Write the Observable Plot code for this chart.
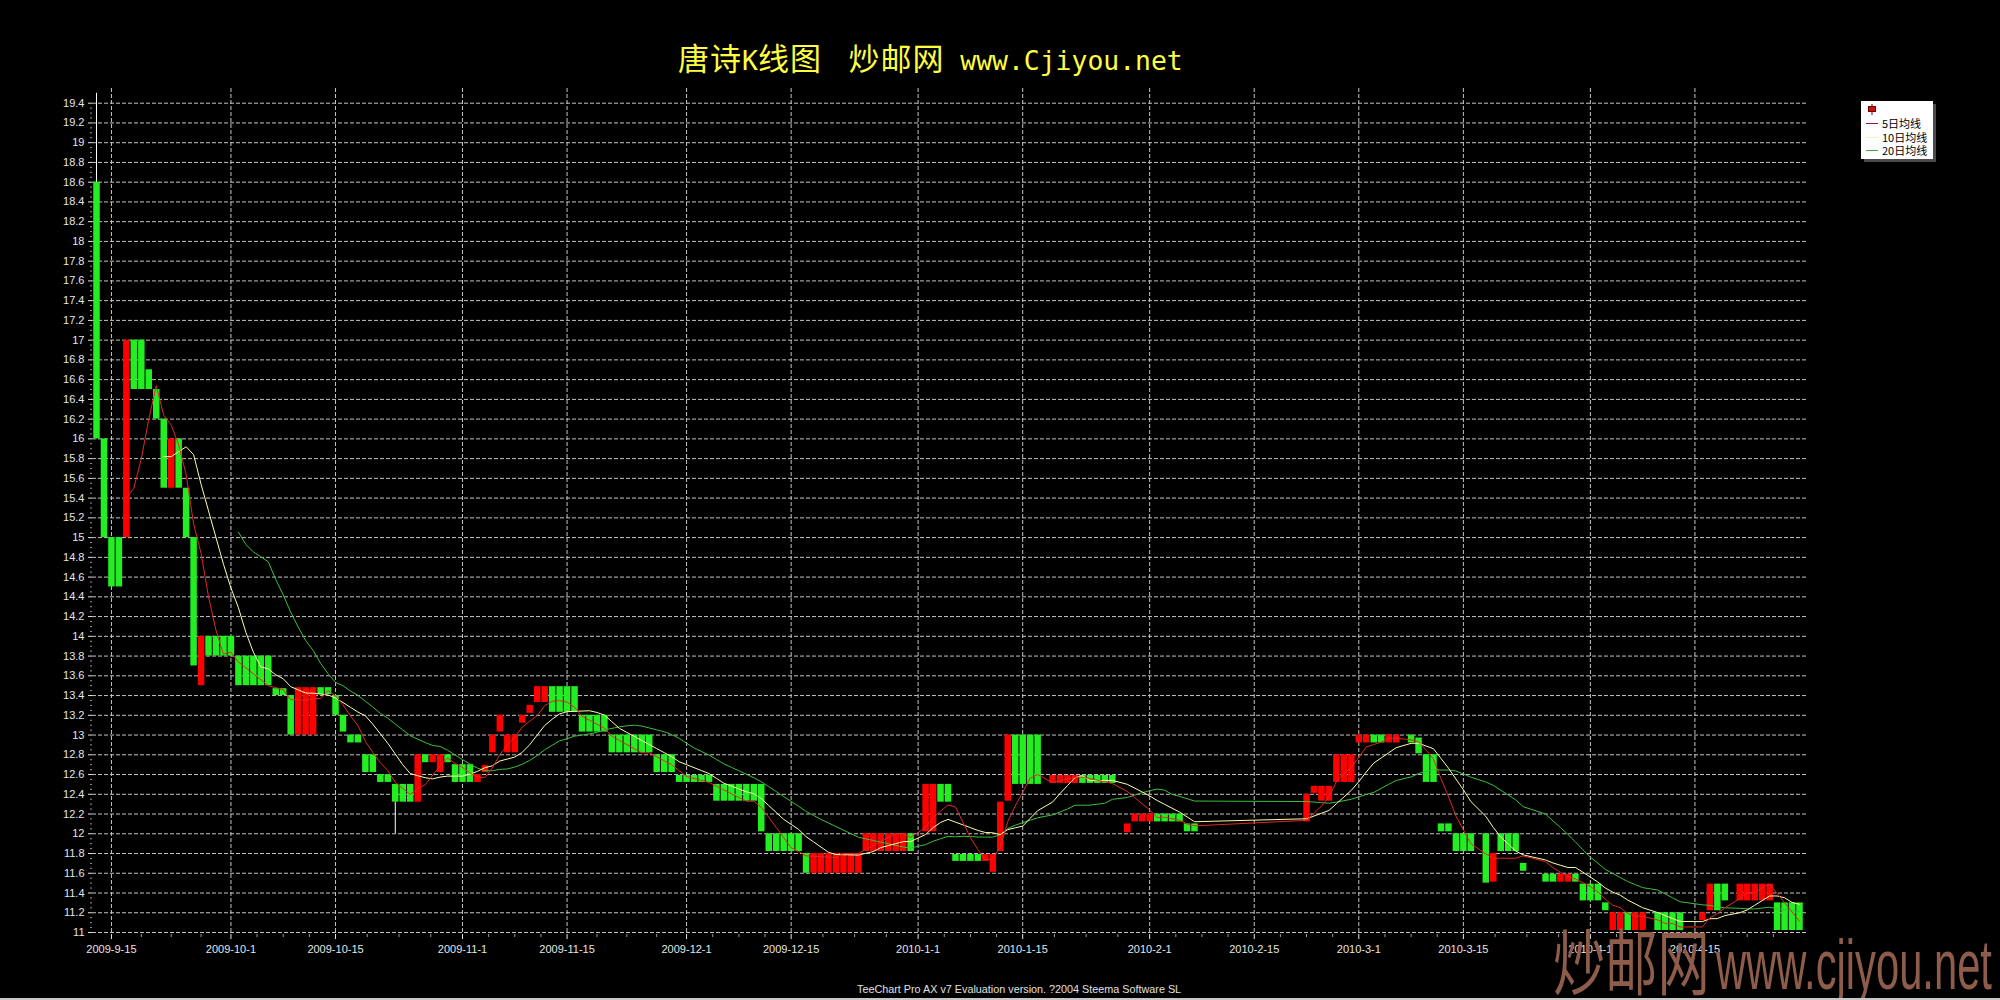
<!DOCTYPE html>
<html><head><meta charset="utf-8">
<script src="https://cdn.jsdelivr.net/npm/d3@7"></script>
<script src="https://cdn.jsdelivr.net/npm/@observablehq/plot@0.6"></script>
<style>
html,body{margin:0;padding:0;background:#000;}
#wrap{position:relative;width:2000px;height:1000px;overflow:hidden;background:#000;}
#chart{position:absolute;left:0;top:0;}
#title{position:absolute;left:678px;top:41px;white-space:pre;color:#ffff40;line-height:31px;font-family:"Noto Sans CJK SC";font-size:31px;}
#title .cjk{font-family:"Noto Sans CJK SC";font-size:31px;letter-spacing:1px;}
#title .lat{font-family:"DejaVu Sans Mono";font-size:26.4px;}
#title .gap{font-family:"DejaVu Sans Mono";font-size:22px;}
#legend{position:absolute;left:1861px;top:101px;width:72px;height:58px;background:#fff;box-shadow:3px 3px 0 #4a4a4a;font-family:"Noto Sans CJK SC";font-size:11px;color:#000;}
#legend .row{position:absolute;left:0;height:13px;line-height:13px;white-space:nowrap;}
#legend .sw{position:absolute;left:5px;top:6px;width:12px;height:1px;}
#legend .tx{position:absolute;left:21px;top:0;}
#footer{position:absolute;left:857px;top:983px;font-family:"Liberation Sans";font-size:10.8px;color:#e0e0e0;white-space:nowrap;}
#wm1{position:absolute;left:1553px;top:922px;font-family:"Noto Sans CJK SC";font-size:60px;line-height:60px;color:#8e5c4a;transform-origin:0 0;transform:scale(0.87,1.2);white-space:nowrap;}
#wm2{position:absolute;left:1716px;top:931px;font-family:"Liberation Sans";font-size:56px;line-height:56px;color:#8e5c4a;transform-origin:0 0;transform:scale(0.745,1.24);white-space:nowrap;}
#bottomline{position:absolute;left:0;top:998px;width:2000px;height:2px;background:#c8c8c8;}
</style></head>
<body>
<div id="wrap">
  <div id="chart"></div>
  <div id="title"><span class="cjk">唐诗</span><span class="lat">K</span><span class="cjk">线图</span><span class="gap">  </span><span class="cjk">炒邮网</span><span class="lat"> www.Cjiyou.net</span></div>
  <div id="legend">
    <div class="row" style="top:2px;width:72px;"><svg width="20" height="13" style="position:absolute;left:4px;top:0"><line x1="7" y1="1" x2="7" y2="12" stroke="#700000"/><rect x="3.5" y="3.5" width="7" height="5" fill="#cc1010" stroke="#700000"/></svg></div>
    <div class="row" style="top:16px;width:72px;"><span class="sw" style="background:#902048"></span><span class="tx">5日均线</span></div>
    <div class="row" style="top:29.5px;width:72px;"><span class="sw" style="background:#f4f0c0"></span><span class="tx">10日均线</span></div>
    <div class="row" style="top:43px;width:72px;"><span class="sw" style="background:#40b040"></span><span class="tx">20日均线</span></div>
  </div>
  <div id="footer">TeeChart Pro AX v7 Evaluation version. ?2004 Steema Software SL</div>
  <div id="wm1">炒邮网</div>
  <div id="wm2">www.cjiyou.net</div>
  <div id="bottomline"></div>
</div>
<script>
// ---- data ----
const dates = [
  "2009-09-13","2009-09-14","2009-09-15","2009-09-16","2009-09-17","2009-09-18","2009-09-19","2009-09-20","2009-09-21","2009-09-22","2009-09-23","2009-09-24","2009-09-25","2009-09-26","2009-09-27","2009-09-28","2009-09-29","2009-09-30",
  "2009-10-01","2009-10-02","2009-10-03","2009-10-04","2009-10-05","2009-10-06","2009-10-07","2009-10-08","2009-10-09","2009-10-10","2009-10-11","2009-10-12","2009-10-13","2009-10-14","2009-10-15","2009-10-16","2009-10-17","2009-10-18","2009-10-19","2009-10-20","2009-10-21","2009-10-22","2009-10-23","2009-10-24","2009-10-25","2009-10-26","2009-10-27","2009-10-28","2009-10-29","2009-10-30","2009-10-31",
  "2009-11-01","2009-11-02","2009-11-03","2009-11-04","2009-11-05","2009-11-06","2009-11-07","2009-11-08","2009-11-09","2009-11-10","2009-11-11","2009-11-12","2009-11-13","2009-11-14","2009-11-15","2009-11-16","2009-11-17","2009-11-18","2009-11-19","2009-11-20","2009-11-21","2009-11-22","2009-11-23","2009-11-24","2009-11-25","2009-11-26","2009-11-27","2009-11-28","2009-11-29","2009-11-30",
  "2009-12-01","2009-12-02","2009-12-03","2009-12-04","2009-12-05","2009-12-06","2009-12-07","2009-12-08","2009-12-09","2009-12-10","2009-12-11","2009-12-12","2009-12-13","2009-12-14","2009-12-15","2009-12-16","2009-12-17","2009-12-18","2009-12-19","2009-12-20","2009-12-21","2009-12-22","2009-12-23","2009-12-24","2009-12-25","2009-12-26","2009-12-27","2009-12-28","2009-12-29","2009-12-30","2009-12-31",
  "2010-01-02","2010-01-03","2010-01-04","2010-01-05","2010-01-06","2010-01-07","2010-01-08","2010-01-09","2010-01-10","2010-01-11","2010-01-12","2010-01-13","2010-01-14","2010-01-15","2010-01-16","2010-01-17","2010-01-19","2010-01-20","2010-01-21","2010-01-22","2010-01-23","2010-01-24","2010-01-25","2010-01-26","2010-01-27","2010-01-29","2010-01-30","2010-01-31",
  "2010-02-01","2010-02-02","2010-02-03","2010-02-04","2010-02-05","2010-02-06","2010-02-07","2010-02-22","2010-02-23","2010-02-24","2010-02-25","2010-02-26","2010-02-27","2010-02-28",
  "2010-03-01","2010-03-02","2010-03-03","2010-03-04","2010-03-05","2010-03-06","2010-03-08","2010-03-09","2010-03-10","2010-03-11","2010-03-12","2010-03-13","2010-03-14","2010-03-15","2010-03-16","2010-03-18","2010-03-19","2010-03-20","2010-03-21","2010-03-22","2010-03-23","2010-03-26","2010-03-27","2010-03-28","2010-03-29","2010-03-30","2010-03-31",
  "2010-04-01","2010-04-02","2010-04-03","2010-04-04","2010-04-05","2010-04-06","2010-04-07","2010-04-08","2010-04-10","2010-04-11","2010-04-12","2010-04-13","2010-04-16","2010-04-17","2010-04-18","2010-04-19","2010-04-21","2010-04-22","2010-04-23","2010-04-24","2010-04-25","2010-04-26","2010-04-27","2010-04-28","2010-04-29"
];
const open = [
  18.6,16.0,15.0,15.0,15.0,17.0,17.0,16.7,16.5,16.2,15.5,16.0,15.5,15.0,13.5,14.0,14.0,14.0,
  14.0,13.8,13.8,13.8,13.8,13.8,13.47,13.47,13.4,13.0,13.0,13.0,13.48,13.48,13.4,13.2,13.0,13.0,12.8,12.8,12.6,12.6,12.5,12.5,12.5,12.32,12.8,12.72,12.62,12.8,12.7,
  12.7,12.7,12.52,12.62,12.82,13.03,12.82,12.82,13.12,13.22,13.33,13.33,13.49,13.49,13.49,13.49,13.2,13.2,13.2,13.2,13.0,13.0,13.0,13.0,13.0,13.0,12.8,12.8,12.8,12.59,
  12.59,12.59,12.59,12.59,12.5,12.5,12.5,12.5,12.5,12.5,12.5,12.0,12.0,12.0,12.0,12.0,11.8,11.6,11.6,11.6,11.6,11.6,11.6,11.6,11.82,11.82,11.82,11.82,11.82,11.82,12.0,
  12.02,12.02,12.5,12.5,11.79,11.79,11.79,11.79,11.72,11.61,11.82,12.33,13.0,13.0,13.0,13.0,12.51,12.51,12.51,12.51,12.59,12.59,12.59,12.59,12.59,12.01,12.12,12.12,
  12.12,12.2,12.2,12.2,12.2,12.1,12.1,12.12,12.41,12.33,12.33,12.52,12.52,12.52,
  12.92,12.92,13.0,13.0,12.92,12.92,13.0,12.97,12.8,12.8,12.1,12.1,12.0,12.0,12.0,12.0,11.51,12.0,12.0,12.0,11.7,11.59,11.59,11.51,11.51,11.59,11.49,
  11.49,11.49,11.3,11.02,11.02,11.2,11.02,11.02,11.2,11.2,11.2,11.2,11.12,11.22,11.49,11.49,11.32,11.32,11.32,11.32,11.32,11.3,11.3,11.3,11.3
];
const close = [
  16.0,15.0,14.5,14.5,17.0,16.5,16.5,16.5,16.2,15.5,16.0,15.5,15.0,13.7,14.0,13.8,13.8,13.8,
  13.8,13.5,13.5,13.5,13.5,13.5,13.4,13.4,13.0,13.48,13.48,13.48,13.41,13.41,13.2,13.03,12.92,12.92,12.62,12.62,12.52,12.52,12.32,12.32,12.32,12.8,12.72,12.8,12.8,12.72,12.52,
  12.52,12.52,12.6,12.69,13.0,13.2,13.0,13.0,13.2,13.3,13.49,13.49,13.23,13.23,13.23,13.23,13.03,13.03,13.03,13.03,12.82,12.82,12.82,12.82,12.82,12.82,12.62,12.62,12.62,12.52,
  12.52,12.52,12.52,12.52,12.33,12.33,12.33,12.33,12.33,12.33,12.02,11.82,11.82,11.82,11.82,11.82,11.6,11.8,11.8,11.8,11.8,11.8,11.8,11.8,12.0,12.0,12.0,12.0,12.0,12.0,11.82,
  12.5,12.5,12.32,12.32,11.72,11.72,11.72,11.72,11.79,11.79,12.32,13.0,12.5,12.5,12.5,12.5,12.59,12.59,12.59,12.59,12.51,12.51,12.51,12.51,12.51,12.1,12.2,12.2,
  12.2,12.12,12.12,12.12,12.12,12.02,12.02,12.4,12.48,12.48,12.48,12.8,12.8,12.8,
  13.0,13.0,12.92,12.92,13.0,13.0,12.92,12.81,12.52,12.52,12.02,12.02,11.82,11.82,11.82,11.5,11.8,11.82,11.82,11.82,11.62,11.51,11.51,11.59,11.59,11.51,11.32,
  11.32,11.32,11.22,11.2,11.2,11.02,11.2,11.2,11.02,11.02,11.02,11.02,11.2,11.49,11.22,11.32,11.49,11.49,11.49,11.49,11.49,11.02,11.02,11.02,11.02
];
// visible shadows (wicks)
const wickDates = ["2009-09-13", "2009-10-23"];
const wickHigh = [19.5, 12.32];
const wickLow = [16.0, 12.0];

const xTicks = ["2009-09-15","2009-10-01","2009-10-15","2009-11-01","2009-11-15","2009-12-01","2009-12-15","2010-01-01","2010-01-15","2010-02-01","2010-02-15","2010-03-01","2010-03-15","2010-04-01","2010-04-15"];
const yTicks = [11,11.2,11.4,11.6,11.8,12,12.2,12.4,12.6,12.8,13,13.2,13.4,13.6,13.8,14,14.2,14.4,14.6,14.8,15,15.2,15.4,15.6,15.8,16,16.2,16.4,16.6,16.8,17,17.2,17.4,17.6,17.8,18,18.2,18.4,18.6,18.8,19,19.2,19.4];
const maPeriods = [5, 10, 20];
const maColors = ["#e02828", "#ffffa8", "#3cc03c"];

// ---- chart ----
const candles = dates.map((d, i) => ({date: new Date(d), open: open[i], close: close[i]}));
const wicks = wickDates.map((d, i) => ({date: new Date(d), high: wickHigh[i], low: wickLow[i]}));
const xTickDates = xTicks.map(d => new Date(d));
const xMinor = d3.pairs(xTickDates).flatMap(([a, b]) => [1, 2, 3].map(k => new Date(+a + k * (b - a) / 4)));
{
  const n = xTickDates.length;
  const step = (xTickDates[n - 1] - xTickDates[n - 2]) / 4;
  for (let k = 1; k <= 3; k++) xMinor.push(new Date(+xTickDates[n - 1] + k * step));
}
const yMinor = d3.range(169).filter(k => k % 4 !== 0).map(k => 11 + k * 0.05);
const fmt = d3.utcFormat("%Y-%-m-%-d");
const gridStyle = {stroke: "#c4c4c4", strokeOpacity: 1, strokeDasharray: "4,2", strokeWidth: 1};

const chart = Plot.plot({
  width: 2000, height: 1000,
  marginLeft: 92, marginRight: 194, marginTop: 88, marginBottom: 66,
  style: {background: "#000", color: "#e6e6e6", fontFamily: "'Liberation Sans', Arial, sans-serif", fontSize: "11px"},
  x: {type: "utc", domain: [new Date(dates[0]), new Date(dates[dates.length - 1])], range: [96, 1799]},
  y: {domain: [11, 19.4], range: [932, 102.7]},
  marks: [
    Plot.gridY(yTicks, gridStyle),
    Plot.gridX(xTickDates, gridStyle),
    Plot.axisY(yTicks, {tickSize: 4, tickPadding: 4, tickFormat: d => String(d), label: null}),
    Plot.axisY(yMinor, {tickSize: 2, tickFormat: () => "", label: null, stroke: "#9a9a9a"}),
    Plot.axisX(xTickDates, {tickSize: 5, tickPadding: 6, tickFormat: fmt, label: null}),
    Plot.axisX(xMinor, {tickSize: 3, tickFormat: () => "", label: null, stroke: "#9a9a9a"}),
    Plot.ruleX(wicks, {x: "date", y1: "low", y2: "high", stroke: "#ffffff", strokeWidth: 1}),
    Plot.ruleX(candles, {x: "date", y1: "open", y2: "close", stroke: d => d.close >= d.open ? "#ff0000" : "#22ee22", strokeWidth: 6.5}),
    ...maPeriods.slice().reverse().map((k, j) => Plot.lineY(candles, Plot.windowY(
      {k, anchor: "end", reduce: "mean", strict: true},
      {x: "date", y: "close", stroke: maColors[maPeriods.length - 1 - j], strokeWidth: 1}
    )))
  ]
});
document.getElementById("chart").appendChild(chart);
</script>
</body></html>
